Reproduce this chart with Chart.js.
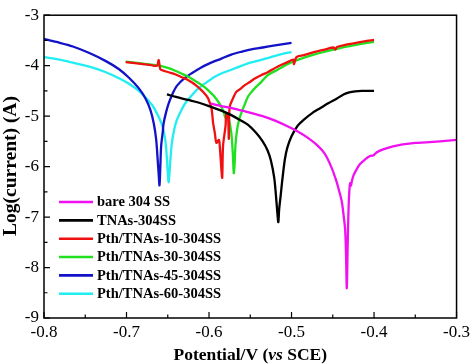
<!DOCTYPE html>
<html><head><meta charset="utf-8">
<script src="https://cdn.jsdelivr.net/npm/chart.js@4"></script>
<style>html,body{margin:0;padding:0;background:#fff}#wrap{width:474px;height:364px;position:relative}</style>
</head><body><div id="wrap"><canvas id="c" width="474" height="364"></canvas></div>
<script>
// ---- data ----
const seriesNames = ["bare 304 SS","TNAs-304SS","Pth/TNAs-10-304SS","Pth/TNAs-30-304SS","Pth/TNAs-45-304SS","Pth/TNAs-60-304SS"];
const seriesColors = ["#f010f0","#000000","#f01010","#20e020","#1212c8","#20eef2"];
const xTickValues = [-0.8,-0.7,-0.6,-0.5,-0.4,-0.3];
const yTickValues = [-9,-8,-7,-6,-5,-4,-3];

const bareX = [-0.598,-0.585,-0.570,-0.553,-0.535,-0.520,-0.505,-0.493,-0.481,-0.470,-0.460,-0.452,-0.446,-0.442,-0.439,-0.437,-0.435,-0.434,-0.433,-0.432,-0.431,-0.430,-0.429,-0.428,-0.427,-0.425,-0.421,-0.417,-0.411,-0.405,-0.401,-0.397,-0.389,-0.377,-0.365,-0.350,-0.337,-0.320,-0.300];
const bareY = [-4.75,-4.80,-4.85,-4.92,-5.00,-5.09,-5.20,-5.30,-5.42,-5.56,-5.74,-6.00,-6.27,-6.50,-6.70,-6.95,-7.25,-7.70,-8.41,-7.60,-6.90,-6.50,-6.33,-6.38,-6.30,-6.18,-6.05,-5.95,-5.86,-5.79,-5.78,-5.72,-5.66,-5.60,-5.56,-5.53,-5.52,-5.50,-5.47];

const tnasX = [-0.651,-0.640,-0.625,-0.613,-0.600,-0.585,-0.573,-0.563,-0.553,-0.543,-0.535,-0.529,-0.525,-0.521,-0.519,-0.517,-0.516,-0.515,-0.513,-0.511,-0.508,-0.505,-0.500,-0.493,-0.485,-0.475,-0.465,-0.455,-0.445,-0.437,-0.430,-0.423,-0.415,-0.400];
const tnasY = [-4.57,-4.62,-4.68,-4.73,-4.80,-4.89,-4.98,-5.07,-5.17,-5.33,-5.50,-5.68,-5.88,-6.22,-6.55,-6.95,-7.10,-6.85,-6.55,-6.24,-5.85,-5.62,-5.40,-5.20,-5.07,-4.94,-4.84,-4.74,-4.65,-4.57,-4.53,-4.51,-4.50,-4.50];

const pth10X = [-0.701,-0.690,-0.680,-0.670,-0.663,-0.661,-0.659,-0.655,-0.649,-0.641,-0.633,-0.627,-0.621,-0.615,-0.609,-0.605,-0.601,-0.597,-0.595,-0.593,-0.591,-0.588,-0.587,-0.585,-0.584,-0.583,-0.580,-0.579,-0.577,-0.576,-0.575,-0.571,-0.567,-0.562,-0.557,-0.551,-0.545,-0.537,-0.529,-0.517,-0.505,-0.498,-0.497,-0.494,-0.485,-0.473,-0.460,-0.449,-0.447,-0.445,-0.435,-0.425,-0.412,-0.400];
const pth10Y = [-3.93,-3.95,-3.97,-3.99,-4.00,-3.89,-4.07,-4.10,-4.13,-4.17,-4.23,-4.27,-4.33,-4.40,-4.49,-4.56,-4.65,-4.85,-5.14,-5.33,-5.53,-5.47,-5.59,-6.05,-6.22,-5.59,-5.20,-4.95,-5.00,-5.45,-4.82,-4.65,-4.52,-4.46,-4.39,-4.33,-4.26,-4.19,-4.13,-4.02,-3.93,-3.88,-3.97,-3.83,-3.79,-3.73,-3.68,-3.64,-3.68,-3.63,-3.59,-3.56,-3.52,-3.49];

const pth30X = [-0.701,-0.690,-0.680,-0.670,-0.660,-0.649,-0.641,-0.633,-0.625,-0.617,-0.611,-0.605,-0.599,-0.593,-0.589,-0.585,-0.582,-0.580,-0.578,-0.576,-0.573,-0.571,-0.570,-0.569,-0.568,-0.566,-0.563,-0.560,-0.557,-0.553,-0.549,-0.543,-0.537,-0.529,-0.517,-0.505,-0.490,-0.473,-0.457,-0.441,-0.425,-0.412,-0.400];
const pth30Y = [-3.92,-3.94,-3.96,-3.98,-4.00,-4.05,-4.10,-4.16,-4.22,-4.30,-4.36,-4.43,-4.52,-4.62,-4.71,-4.82,-4.93,-5.04,-4.96,-5.05,-5.33,-5.79,-6.13,-5.95,-5.59,-5.27,-5.04,-4.90,-4.78,-4.62,-4.53,-4.42,-4.33,-4.19,-4.08,-3.97,-3.87,-3.78,-3.71,-3.65,-3.60,-3.56,-3.53];

const pth45X = [-0.800,-0.785,-0.765,-0.745,-0.725,-0.709,-0.697,-0.685,-0.677,-0.671,-0.667,-0.664,-0.662,-0.661,-0.660,-0.659,-0.658,-0.656,-0.655,-0.652,-0.649,-0.644,-0.639,-0.630,-0.620,-0.610,-0.600,-0.585,-0.573,-0.560,-0.550,-0.535,-0.520,-0.500];
const pth45Y = [-3.47,-3.53,-3.62,-3.75,-3.91,-4.07,-4.24,-4.45,-4.65,-4.88,-5.14,-5.47,-5.92,-6.15,-6.37,-6.00,-5.59,-5.30,-5.14,-4.92,-4.75,-4.55,-4.40,-4.25,-4.14,-4.04,-3.96,-3.86,-3.78,-3.72,-3.68,-3.64,-3.60,-3.55];

const pth60X = [-0.800,-0.781,-0.765,-0.745,-0.725,-0.709,-0.697,-0.685,-0.677,-0.669,-0.663,-0.657,-0.653,-0.651,-0.650,-0.649,-0.648,-0.647,-0.645,-0.642,-0.639,-0.634,-0.629,-0.620,-0.613,-0.603,-0.593,-0.583,-0.573,-0.560,-0.550,-0.538,-0.525,-0.512,-0.500];
const pth60Y = [-3.83,-3.88,-3.94,-4.02,-4.13,-4.25,-4.36,-4.50,-4.63,-4.78,-4.95,-5.17,-5.47,-5.85,-6.10,-6.31,-6.15,-5.90,-5.53,-5.25,-5.08,-4.90,-4.75,-4.57,-4.45,-4.33,-4.22,-4.14,-4.08,-4.00,-3.94,-3.89,-3.83,-3.77,-3.73];

const seriesX = [bareX, tnasX, pth10X, pth30X, pth45X, pth60X];
const seriesY = [bareY, tnasY, pth10Y, pth30Y, pth45Y, pth60Y];

// ---- chart ----
const FONT = "'Liberation Serif','Times New Roman',serif";
const datasets = seriesNames.map((name, i) => ({
  label: name,
  data: seriesX[i].map((x, k) => ({x: x, y: seriesY[i][k]})),
  borderColor: seriesColors[i],
  backgroundColor: seriesColors[i],
  borderWidth: 2.3,
  pointRadius: 0,
  fill: false,
  tension: 0.3
}));

const decor = {
  id: 'decor',
  afterDraw(chart) {
    const ctx = chart.ctx, a = chart.chartArea;
    const xs = chart.scales.x, ys = chart.scales.y;
    ctx.save();
    ctx.strokeStyle = '#000';
    ctx.lineWidth = 1.5;
    ctx.strokeRect(a.left, a.top, a.right - a.left, a.bottom - a.top);
    ctx.lineWidth = 1.2;
    ctx.beginPath();
    for (let v = -0.8; v <= -0.3 + 1e-9; v += 0.05) {
      const p = xs.getPixelForValue(v);
      const major = Math.abs(Math.round(v * 10) - v * 10) < 1e-6;
      ctx.moveTo(p, a.bottom); ctx.lineTo(p, a.bottom - (major ? 6 : 3.5));
    }
    for (let v = -9; v <= -3 + 1e-9; v += 0.5) {
      const p = ys.getPixelForValue(v);
      const major = Math.abs(Math.round(v) - v) < 1e-6;
      ctx.moveTo(a.left, p); ctx.lineTo(a.left + (major ? 6 : 3.5), p);
    }
    ctx.stroke();

    // legend
    ctx.font = "bold 14.5px " + FONT;
    ctx.textBaseline = 'middle';
    ctx.textAlign = 'left';
    chart.data.datasets.forEach((ds, i) => {
      const y = 202 + i * 18.35;
      ctx.strokeStyle = ds.borderColor;
      ctx.lineWidth = 2.6;
      ctx.beginPath(); ctx.moveTo(59, y); ctx.lineTo(93, y); ctx.stroke();
      ctx.fillStyle = '#000';
      ctx.fillText(ds.label, 97, y + 0.5);
    });

    // x title with italic "vs"
    const parts = [["Potential/V (", "bold"], ["vs", "italic bold"], [" SCE)", "bold"]];
    let total = 0;
    parts.forEach(p => { ctx.font = p[1] + " 17.5px " + FONT; total += ctx.measureText(p[0]).width; });
    let x = (a.left + a.right) / 2 - total / 2;
    ctx.textBaseline = 'alphabetic';
    parts.forEach(p => { ctx.font = p[1] + " 17.5px " + FONT; ctx.fillText(p[0], x, 359.5); x += ctx.measureText(p[0]).width; });

    // y title
    ctx.save();
    ctx.translate(10.5, 166);
    ctx.rotate(-Math.PI / 2);
    ctx.font = "bold 19.5px " + FONT;
    ctx.textAlign = 'center';
    ctx.textBaseline = 'middle';
    ctx.fillText("Log(current) (A)", 0, 0);
    ctx.restore();
    ctx.restore();
  }
};

new Chart(document.getElementById('c'), {
  type: 'line',
  data: { datasets },
  options: {
    responsive: false,
    animation: false,
    devicePixelRatio: 1,
    layout: { padding: { top: 10, right: 13, left: 0, bottom: 0 } },
    plugins: { legend: { display: false }, tooltip: { enabled: false } },
    scales: {
      x: {
        type: 'linear', min: -0.8, max: -0.3,
        afterBuildTicks: s => { s.ticks = xTickValues.map(v => ({ value: v })); },
        afterFit: s => { s.height = 46; },
        ticks: { font: { family: FONT, size: 17 }, color: '#000', padding: 4, maxRotation: 0,
                 callback: v => v.toFixed(1) },
        grid: { display: false, drawTicks: false },
        border: { display: false }
      },
      y: {
        type: 'linear', min: -9, max: -3,
        afterBuildTicks: s => { s.ticks = yTickValues.map(v => ({ value: v })); },
        afterFit: s => { s.width = 44; },
        ticks: { font: { family: FONT, size: 17 }, color: '#000', padding: 5,
                 callback: v => String(v) },
        grid: { display: false, drawTicks: false },
        border: { display: false }
      }
    }
  },
  plugins: [decor]
});
</script>
</body></html>
